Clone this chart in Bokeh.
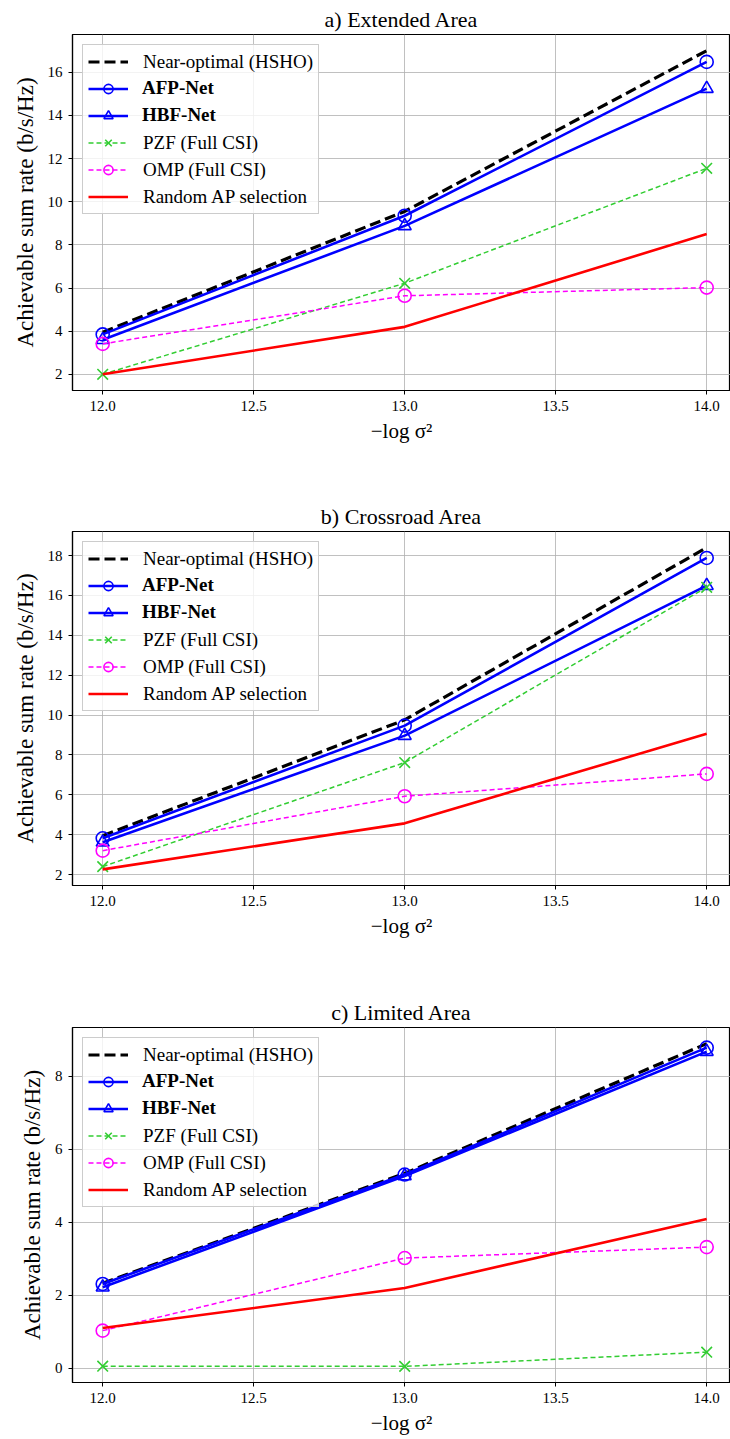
from bokeh.plotting import figure
from bokeh.models import Legend, LegendItem, FixedTicker, PrintfTickFormatter, Range1d
from bokeh.layouts import column
from bokeh.embed import file_html
from bokeh.resources import INLINE

# ---------------- data ----------------
x_vals = [12.0, 13.0, 14.0]
x_ticks = [12.0, 12.5, 13.0, 13.5, 14.0]

titles = ["a) Extended Area", "b) Crossroad Area", "c) Limited Area"]
series_labels = ["Near-optimal (HSHO)", "AFP-Net", "HBF-Net",
                 "PZF (Full CSI)", "OMP (Full CSI)", "Random AP selection"]

hsho_a = [3.95, 9.55, 17.0]
afp_a = [3.85, 9.35, 16.48]
hbf_a = [3.60, 8.88, 15.24]
pzf_a = [2.0, 6.22, 11.55]
omp_a = [3.41, 5.64, 6.02]
rand_a = [2.0, 4.2, 8.5]

hsho_b = [3.95, 9.76, 18.40]
afp_b = [3.82, 9.47, 17.88]
hbf_b = [3.62, 8.97, 16.49]
pzf_b = [2.40, 7.62, 16.41]
omp_b = [3.20, 5.93, 7.05]
rand_b = [2.26, 4.57, 9.06]

hsho_c = [2.33, 5.34, 8.90]
afp_c = [2.31, 5.31, 8.79]
hbf_c = [2.22, 5.27, 8.68]
pzf_c = [0.055, 0.05, 0.44]
omp_c = [1.03, 3.02, 3.32]
rand_c = [1.10, 2.20, 4.09]

y_ticks_a = [2, 4, 6, 8, 10, 12, 14, 16]
y_ticks_b = [2, 4, 6, 8, 10, 12, 14, 16, 18]
y_ticks_c = [0, 2, 4, 6, 8]

panels = [
    (titles[0], [hsho_a, afp_a, hbf_a, pzf_a, omp_a, rand_a], y_ticks_a),
    (titles[1], [hsho_b, afp_b, hbf_b, pzf_b, omp_b, rand_b], y_ticks_b),
    (titles[2], [hsho_c, afp_c, hbf_c, pzf_c, omp_c, rand_c], y_ticks_c),
]

# ---------------- styles ----------------
FONT = "Liberation Serif"
styles = [
    dict(color="#000000", width=3.2, dash="11 5", marker=None),
    dict(color="#0000ff", width=2.6, dash="solid", marker="circle"),
    dict(color="#0000ff", width=2.6, dash="solid", marker="triangle"),
    dict(color="#32cd32", width=1.5, dash="5 3", marker="x"),
    dict(color="#ff00ff", width=1.5, dash="5 3", marker="circle"),
    dict(color="#ff0000", width=2.6, dash="solid", marker=None),
]
heights = [498, 496, 445]
tops = [34, 33, 33]
bottoms = [108, 109, 57]
LEFT = 72
WIDTH = 730
X_END = 11.9 + (WIDTH - LEFT) / 302.0


def make_panel(title, ys, yticks, height, top, bottom):
    lo = min(min(v) for v in ys)
    hi = max(max(v) for v in ys)
    pad = 0.05 * (hi - lo)
    p = figure(width=WIDTH, height=height,
               x_range=Range1d(11.9, X_END), y_range=Range1d(lo - pad, hi + pad),
               output_backend="svg", toolbar_location=None,
               min_border_left=LEFT, min_border_right=0,
               min_border_top=top, min_border_bottom=bottom)
    p.title.text = title
    p.title.align = "center"
    p.title.text_font = FONT
    p.title.text_font_size = "22px"
    p.title.text_font_style = "normal"
    p.title.text_color = "#000000"
    p.title.standoff = 5
    p.outline_line_color = "#000000"
    p.outline_line_width = 1.2
    p.background_fill_color = "#ffffff"

    for ax in (p.xaxis[0], p.yaxis[0]):
        ax.axis_line_color = "#000000"
        ax.axis_line_width = 1.2
        ax.major_tick_line_color = "#000000"
        ax.major_tick_out = 4
        ax.major_tick_in = 0
        ax.minor_tick_out = 0
        ax.minor_tick_in = 0
        ax.major_label_text_font = FONT
        ax.major_label_text_font_size = "15px"
        ax.major_label_text_color = "#000000"
        ax.axis_label_text_font = FONT
        ax.axis_label_text_font_style = "normal"
        ax.axis_label_text_color = "#000000"

    p.xaxis.ticker = FixedTicker(ticks=x_ticks)
    p.xaxis.formatter = PrintfTickFormatter(format="%.1f")
    p.xaxis.axis_label = "\u2212log \u03c3\u00b2"
    p.xaxis.axis_label_text_font_size = "21px"
    p.xaxis.major_label_standoff = 6
    p.xaxis.axis_label_standoff = 5

    p.yaxis.ticker = FixedTicker(ticks=yticks)
    p.yaxis.axis_label = "Achievable sum rate (b/s/Hz)"
    p.yaxis.axis_label_text_font_size = "23px"
    p.yaxis.major_label_standoff = 6
    p.yaxis.axis_label_standoff = 7

    for g in (p.xgrid[0], p.ygrid[0]):
        g.grid_line_color = "#b0b0b0"
        g.grid_line_width = 0.8

    items = []
    for lab, y, st in zip(series_labels, ys, styles):
        rs = [p.line(x_vals, y, line_color=st["color"], line_width=st["width"],
                     line_dash=st["dash"])]
        if st["marker"]:
            rs.append(p.scatter(x_vals, y, marker=st["marker"],
                                size=15 if st["marker"] == "x" else 13,
                                line_color=st["color"], fill_color=None,
                                line_width=1.6))
        items.append((lab, rs))

    leg_common = dict(label_text_font=FONT, label_text_font_size="19px",
                      label_text_color="#000000",
                      glyph_width=40, glyph_height=23, label_height=23,
                      spacing=4, padding=5, label_standoff=15)

    # main legend (frame + glyphs + plain-weight labels)
    main_items = []
    for lab, rs in items:
        shown = " " if lab in ("AFP-Net", "HBF-Net") else lab
        main_items.append(LegendItem(label=shown, renderers=rs))
    leg = Legend(items=main_items, location="top_left", margin=10,
                 border_line_color="#cccccc", border_line_alpha=1.0,
                 border_line_width=1,
                 background_fill_color="#ffffff", background_fill_alpha=0.8,
                 label_text_font_style="normal", **leg_common)
    p.add_layout(leg, "center")

    # bold labels for the proposed networks, overlaid on rows 2-3
    d1 = p.line([], [], line_alpha=0)
    d2 = p.line([], [], line_alpha=0)
    frame_h = height - top - bottom
    leg_b = Legend(items=[LegendItem(label="AFP-Net", renderers=[d1]),
                          LegendItem(label="HBF-Net", renderers=[d2])],
                   location=(10, frame_h - 97), margin=0,
                   border_line_alpha=0, background_fill_alpha=0,
                   label_text_font_style="bold", **leg_common)
    p.add_layout(leg_b, "center")
    return p


figs = [make_panel(t, ys, yt, h, tp, b)
        for (t, ys, yt), h, tp, b in zip(panels, heights, tops, bottoms)]
layout = column(*figs)
open("out.html", "w").write(file_html(layout, INLINE))
